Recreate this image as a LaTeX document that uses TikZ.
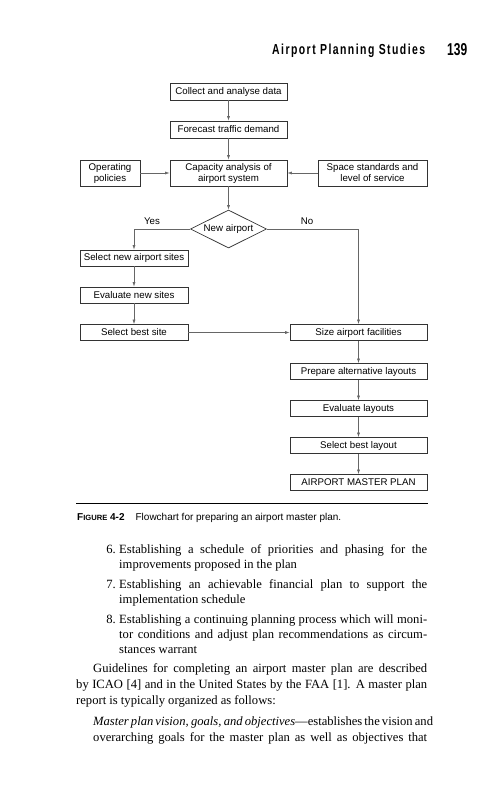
\documentclass[tikz,border=0pt]{standalone}
\usepackage{graphicx}
\usepackage{fontspec}
\setmainfont{Liberation Serif}
\setsansfont{Liberation Sans}
\newfontfamily\headfont[LetterSpace=14]{Liberation Sans}
\usetikzlibrary{arrows.meta,shapes.geometric}
\tikzset{
  box/.style={draw=black!80, line width=0.7pt, inner sep=0pt, align=center,
    font=\sffamily\fontsize{9.7}{11}\selectfont},
  decide/.style={box, shape=diamond, aspect=2},
  lbl/.style={inner sep=0pt, font=\sffamily\fontsize{9.7}{11}\selectfont},
  conn/.style={draw=black!60, line width=0.6pt, -{Latex[length=4.5pt,width=3pt]}},
  body/.style={anchor=base west, inner sep=0pt, font=\fontsize{12.6}{15}\selectfont},
  num/.style={anchor=base east, inner sep=0pt, font=\fontsize{12.6}{15}\selectfont}
}
\begin{document}
\begin{tikzpicture}[x=1pt,y=-1pt]
\fill[white] (0,0) rectangle (503,800);
\useasboundingbox (0,0) rectangle (503,800);

% header
\node[anchor=base west, inner sep=0pt] (head) at (272,55)
  {\resizebox{153pt}{10.5pt}{\headfont\bfseries Airport Planning Studies}};
\node[anchor=base west, inner sep=0pt] (pagenum) at (447,56)
  {\resizebox{20pt}{12pt}{\sffamily\bfseries 139}};

% flowchart
\node[box, minimum width=117pt, minimum height=17pt] (collect) at (228.5,91.5) {Collect and analyse data};
\node[box, minimum width=117pt, minimum height=17pt] (forecast) at (228.5,129.5) {Forecast traffic demand};
\node[box, minimum width=117pt, minimum height=26pt] (capacity) at (228.5,173) {Capacity analysis of\\airport system};
\node[box, minimum width=60pt, minimum height=26pt] (ops) at (110,173) {Operating\\policies};
\node[box, minimum width=109pt, minimum height=26pt] (space) at (372.5,173) {Space standards and\\level of service};
\node[decide, minimum width=76pt, minimum height=38pt] (newap) at (228.5,229) {New airport};
\node[lbl] (yes) at (152,221) {Yes};
\node[lbl] (no) at (307,221) {No};

\node[box, minimum width=108pt, minimum height=16pt] (selnew) at (134,258) {Select new airport sites};
\node[box, minimum width=108pt, minimum height=16pt] (evalnew) at (134,295) {Evaluate new sites};
\node[box, minimum width=108pt, minimum height=16pt] (selbest) at (134,332.5) {Select best site};

\node[box, minimum width=137pt, minimum height=16pt] (size) at (358.5,332.5) {Size airport facilities};
\node[box, minimum width=137pt, minimum height=16pt] (prep) at (358.5,371.5) {Prepare alternative layouts};
\node[box, minimum width=137pt, minimum height=16pt] (evallay) at (358.5,408.5) {Evaluate layouts};
\node[box, minimum width=137pt, minimum height=16pt] (sellay) at (358.5,445.5) {Select best layout};
\node[box, minimum width=137pt, minimum height=16pt] (master) at (358.5,482.5) {AIRPORT MASTER PLAN};

\draw[conn] (collect) -- (forecast);
\draw[conn] (forecast) -- (capacity);
\draw[conn] (ops) -- (capacity);
\draw[conn] (space) -- (capacity);
\draw[conn] (capacity) -- (newap);
\draw[conn] (newap.west) -| (selnew.north);
\draw[conn] (newap.east) -| (size.north);
\draw[conn] (selnew) -- (evalnew);
\draw[conn] (evalnew) -- (selbest);
\draw[conn] (selbest) -- (size);
\draw[conn] (size) -- (prep);
\draw[conn] (prep) -- (evallay);
\draw[conn] (evallay) -- (sellay);
\draw[conn] (sellay) -- (master);

% caption
\coordinate (ruleL) at (76,503);
\coordinate (ruleR) at (428,503);
\draw[line width=0.8pt] (ruleL) -- (ruleR);
\node[anchor=base west, inner sep=0pt, font=\sffamily\fontsize{10}{12}\selectfont] (caption) at (77,520)
  {\textbf{F{\fontsize{7.6}{9}\selectfont IGURE} 4-2}\hspace{11pt}Flowchart for preparing an airport master plan.};

% body text
\node[num] (n6) at (116,553) {6.};
\node[body] (l1) at (119,553) {\makebox[308pt][s]{Establishing a schedule of priorities and phasing for the}};
\node[body] (l2) at (119,568) {improvements proposed in the plan};
\node[num] (n7) at (116,588) {7.};
\node[body] (l3) at (119,588) {\makebox[308pt][s]{Establishing an achievable financial plan to support the}};
\node[body] (l4) at (119,603) {implementation schedule};
\node[num] (n8) at (116,623) {8.};
\node[body] (l5) at (119,623) {\makebox[308pt][s]{Establishing a continuing planning process which will moni-}};
\node[body] (l6) at (119,638) {\makebox[308pt][s]{tor conditions and adjust plan recommendations as circum-}};
\node[body] (l7) at (119,653) {stances warrant};

\node[body] (g1) at (93,672) {\makebox[334pt][s]{Guidelines for completing an airport master plan are described}};
\node[body] (g2) at (76,688) {\makebox[351pt][s]{by ICAO [4] and in the United States by the FAA [1]. A master plan}};
\node[body] (g3) at (76,704) {report is typically organized as follows:};

\node[body] (m1) at (93,725) {\makebox[334pt][s]{\textit{Master plan vision, goals, and objectives}---establishes the vision and}};
\node[body] (m2) at (93,741) {\makebox[334pt][s]{overarching goals for the master plan as well as objectives that}};
\end{tikzpicture}
\end{document}
